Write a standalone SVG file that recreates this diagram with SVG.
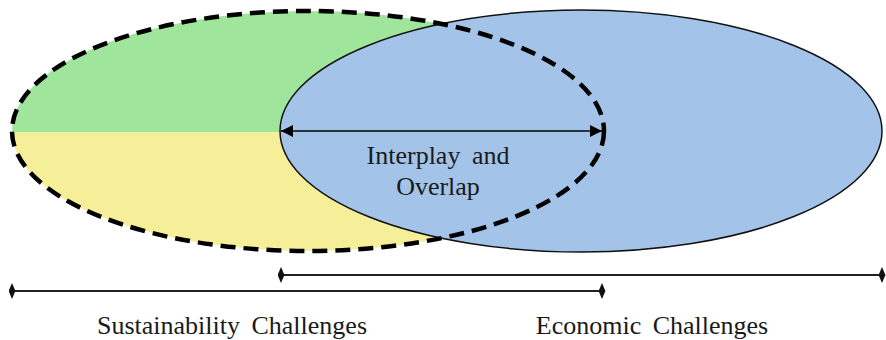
<svg xmlns="http://www.w3.org/2000/svg" width="886" height="340" viewBox="0 0 886 340">
  <style>
    .lbl { font-family: "Liberation Serif", "Times New Roman", serif; font-size: 26px; fill: #1a1a1a; word-spacing: 5px; }
    .scale { stroke: #222; stroke-width: 2; fill: none; }
  </style>
  <defs>
    <clipPath id="sustClip">
      <ellipse cx="308" cy="131" rx="296" ry="120"/>
    </clipPath>
    <marker id="tri" viewBox="0 0 10 10" refX="10" refY="5" markerWidth="13" markerHeight="12" markerUnits="userSpaceOnUse" orient="auto-start-reverse">
      <path d="M0,0 L10,5 L0,10 z" fill="#000"/>
    </marker>
    <marker id="dia" viewBox="0 0 6 14" refX="3" refY="7" markerWidth="7" markerHeight="16" markerUnits="userSpaceOnUse" orient="0">
      <path d="M3,0 L6,7 L3,14 L0,7 z" fill="#111"/>
    </marker>
  </defs>

  <!-- sustainability area: green upper half, yellow lower half -->
  <g id="sustainability-fill" clip-path="url(#sustClip)">
    <rect x="0" y="0" width="620" height="132" fill="#9fe59b"/>
    <rect x="0" y="132" width="620" height="130" fill="#f6ef9a"/>
  </g>

  <!-- economic area -->
  <g id="economic">
    <ellipse cx="581" cy="131" rx="301" ry="121" fill="#a3c4e8" stroke="#111" stroke-width="1.5"/>
  </g>

  <!-- sustainability outline (dashed) -->
  <g id="sustainability">
    <ellipse cx="308" cy="131" rx="296" ry="120" fill="none" stroke="#000" stroke-width="4.5" stroke-dasharray="15,8"/>
  </g>

  <!-- overlap span and label -->
  <g id="overlap">
    <line x1="281" y1="131" x2="602" y2="131" stroke="#000" stroke-width="1.5" marker-start="url(#tri)" marker-end="url(#tri)"/>
    <text class="lbl" x="438" y="164" text-anchor="middle">Interplay and</text>
    <text class="lbl" x="438" y="195" text-anchor="middle">Overlap</text>
  </g>

  <!-- range scales -->
  <g id="connectors">
    <line class="scale" x1="281" y1="275" x2="882" y2="275" marker-start="url(#dia)" marker-end="url(#dia)"/>
    <line class="scale" x1="12" y1="291" x2="602" y2="291" marker-start="url(#dia)" marker-end="url(#dia)"/>
  </g>

  <g id="sustainability-label">
    <text class="lbl" x="232" y="334" text-anchor="middle">Sustainability Challenges</text>
  </g>
  <g id="economic-label">
    <text class="lbl" x="652" y="334" text-anchor="middle">Economic Challenges</text>
  </g>
</svg>
